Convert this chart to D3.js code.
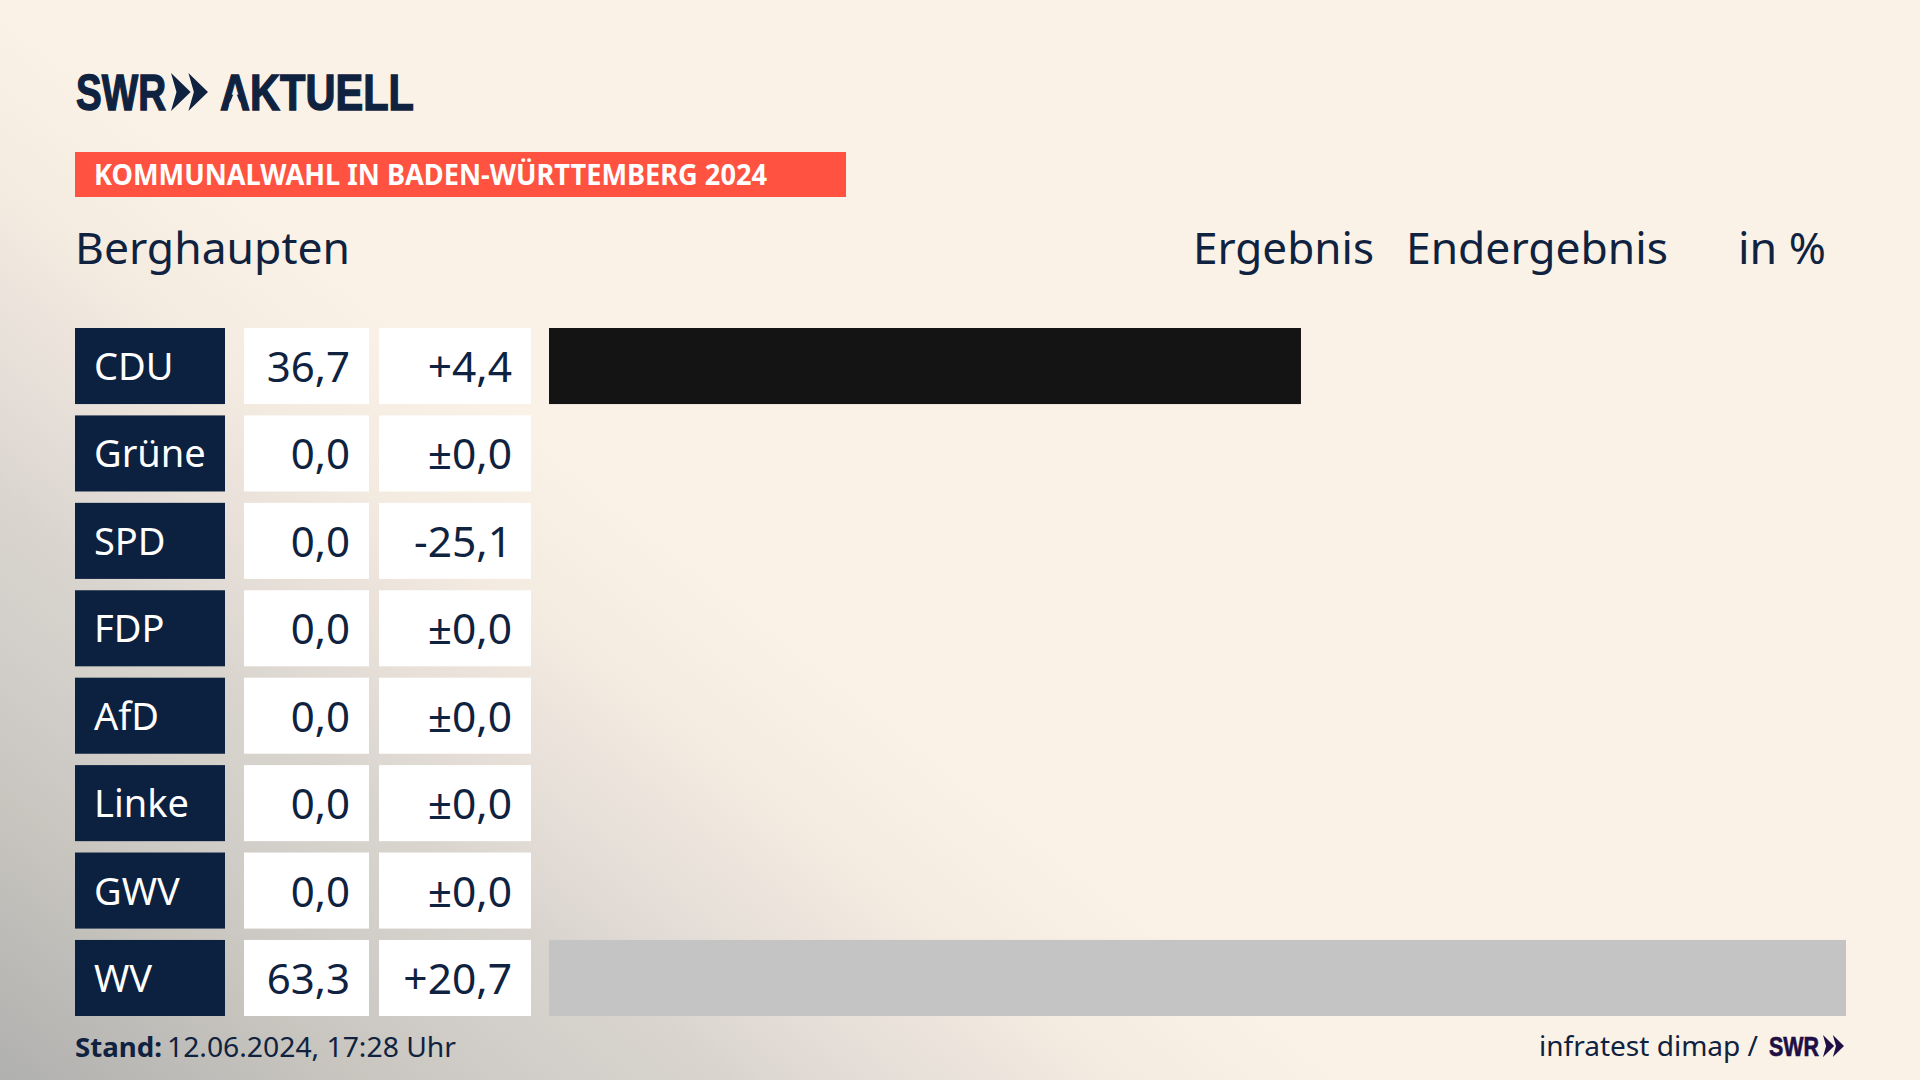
<!DOCTYPE html>
<html>
<head>
<meta charset="utf-8">
<title>Berghaupten</title>
<script src="https://cdn.jsdelivr.net/npm/d3@7"></script>
<style>
html,body{margin:0;padding:0;background:#faf2e7;overflow:hidden;}
svg{display:block;}
text{font-family:"Noto Sans",sans-serif;fill:#0f2240;}
</style>
</head>
<body>
<div id="chart"></div>
<script>
var parties = ["CDU","Grüne","SPD","FDP","AfD","Linke","GWV","WV"];
var results = [36.7,0,0,0,0,0,0,63.3];
var changes = ["+4,4","±0,0","-25,1","±0,0","±0,0","±0,0","±0,0","+20,7"];
var barColors = ["#141414","#1a9a3c","#e3000f","#ffd500","#009ee0","#be3075","#c4c4c4","#c4c4c4"];

var svg = d3.select("#chart").append("svg").attr("width",1920).attr("height",1080);
var defs = svg.append("defs");

// background: cream with a grey haze coming from the lower left corner
var haze = defs.append("linearGradient").attr("id","haze")
    .attr("gradientUnits","userSpaceOnUse")
    .attr("x1",0).attr("y1",1080).attr("x2",525).attr("y2",420);
[[0,"#b0b0af"],[0.26,"#c8c5bf"],[0.38,"#d0cdc8"],[0.54,"#d9d5ce"],[0.63,"#e3dcd6"],[0.82,"#f3eae0"],[1,"#faf2e7"]].forEach(function(s){
    haze.append("stop").attr("offset",s[0]).attr("stop-color",s[1]);
});
svg.append("rect").attr("width",1920).attr("height",1080).attr("fill","url(#haze)");

// logo
var logo = svg.append("g");
logo.append("text").attr("x",76).attr("y",110)
    .style("font-family","'Liberation Sans'").style("font-weight",700).style("font-size","50px")
    .style("stroke","#0f2240").style("stroke-width","1.4px")
    .attr("textLength",90).attr("lengthAdjust","spacingAndGlyphs").text("SWR");
logo.append("text").attr("x",220).attr("y",110)
    .style("font-family","'Liberation Sans'").style("font-weight",700).style("font-size","50px")
    .style("stroke","#0f2240").style("stroke-width","1.4px")
    .attr("textLength",194).attr("lengthAdjust","spacingAndGlyphs").text("AKTUELL");
// the logo's A has no crossbar
logo.append("path").attr("d","M233.5,94L236.5,94L241,105L229,105Z").attr("fill","#f9f1e7");

function chevrons(g,x,y,w,h,color){
    var cw = w*0.53;
    [0,w-cw].forEach(function(dx){
        var p = d3.path();
        p.moveTo(x+dx,y);
        p.lineTo(x+dx+cw,y+h/2);
        p.lineTo(x+dx,y+h);
        p.lineTo(x+dx+cw*0.28,y+h/2);
        p.closePath();
        g.append("path").attr("d",p.toString()).attr("fill",color);
    });
}
chevrons(logo,171,73,37,38,"#0f2240");

// red banner
svg.append("rect").attr("x",75).attr("y",152).attr("width",771).attr("height",45).attr("fill","#ff5240");
svg.append("text").attr("x",94).attr("y",185)
    .style("font-size","28px").style("font-weight",700).style("fill","#fff")
    .attr("textLength",673).attr("lengthAdjust","spacingAndGlyphs")
    .text("KOMMUNALWAHL IN BADEN-WÜRTTEMBERG 2024");

// header line
var headers = [["Berghaupten",75,275],["Ergebnis",1193,181],["Endergebnis",1406,262],["in %",1738,88]];
svg.selectAll(".head").data(headers).enter().append("text").attr("class","head")
    .attr("x",function(d){return d[1];}).attr("y",264)
    .attr("textLength",function(d){return d[2];}).attr("lengthAdjust","spacingAndGlyphs")
    .style("font-size","44px")
    .text(function(d){return d[0];});

// scales
var y = d3.scaleBand().domain(parties).range([328,1016]).paddingInner(0.13);
var x = d3.scaleLinear().domain([0,63.3]).range([549,1846]);
var color = d3.scaleOrdinal().domain(parties).range(barColors);

var rows = svg.selectAll(".row").data(parties).enter().append("g").attr("class","row")
    .attr("transform",function(d){return "translate(0,"+y(d)+")";});

rows.append("rect").attr("x",75).attr("width",150).attr("height",y.bandwidth()).attr("fill","#0c2040");
rows.append("rect").attr("x",244).attr("width",125).attr("height",y.bandwidth()).attr("fill","#fff");
rows.append("rect").attr("x",379).attr("width",152).attr("height",y.bandwidth()).attr("fill","#fff");

rows.append("text").attr("x",94).attr("y",52)
    .style("font-size","38px").style("fill","#fff")
    .text(function(d){return d;});
rows.append("text").attr("x",350).attr("y",54).attr("text-anchor","end")
    .style("font-size","42px")
    .text(function(d,i){return results[i].toFixed(1).replace(".",",");});
rows.append("text").attr("x",512).attr("y",54).attr("text-anchor","end")
    .style("font-size","42.5px")
    .text(function(d,i){return changes[i];});

rows.append("rect").attr("class","bar").attr("x",x(0)).attr("height",y.bandwidth())
    .attr("width",function(d,i){return x(results[i])-x(0);})
    .attr("fill",function(d){return color(d);});

// footer
svg.append("text").attr("x",75).attr("y",1057)
    .style("font-size","27px").style("font-weight",700)
    .attr("textLength",87).attr("lengthAdjust","spacingAndGlyphs").text("Stand:");
svg.append("text").attr("x",167).attr("y",1057)
    .style("font-size","27px")
    .attr("textLength",289).attr("lengthAdjust","spacingAndGlyphs").text("12.06.2024, 17:28 Uhr");
svg.append("text").attr("x",1539).attr("y",1056)
    .style("font-size","28px")
    .attr("textLength",219).attr("lengthAdjust","spacingAndGlyphs").text("infratest dimap /");
svg.append("text").attr("x",1769).attr("y",1056)
    .style("font-family","'Liberation Sans'").style("font-weight",700).style("font-size","28px").style("fill","#1e0f45")
    .style("stroke","#1e0f45").style("stroke-width","0.7px")
    .attr("textLength",50).attr("lengthAdjust","spacingAndGlyphs").text("SWR");
chevrons(svg.append("g"),1823,1035,21,22,"#1e0f45");
</script>
</body>
</html>
